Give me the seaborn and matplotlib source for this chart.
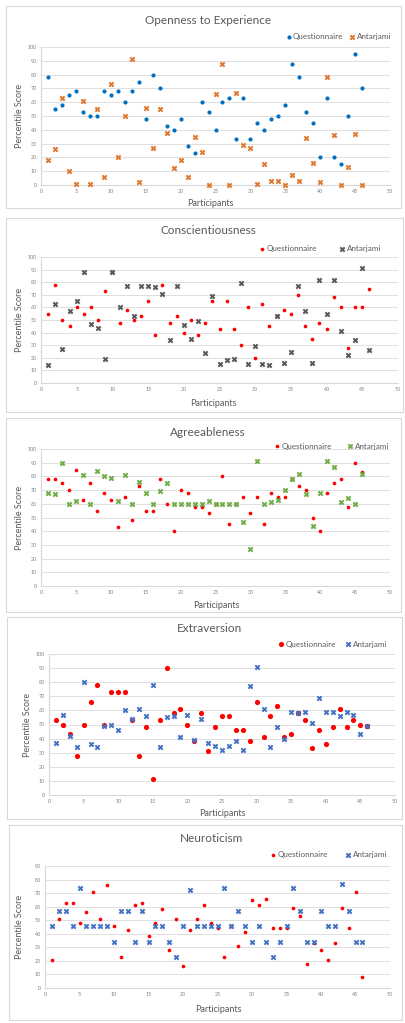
import matplotlib
matplotlib.use('Agg')
import matplotlib.pyplot as plt
import pandas as pd
import seaborn as sns
from matplotlib.patches import Rectangle

participants = list(range(1, 47))

# Openness to Experience
openness_q = [78, 55, 58, 65, 68, 53, 50, 50, 68, 65, 68, 60, 68, 75, 48, 80, 70, 43, 40, 48,
              28, 23, 60, 53, 40, 60, 63, 33, 63, 33, 45, 40, 48, 50, 58, 88, 78, 53, 45, 20,
              63, 20, 15, 50, 95, 70]
openness_a = [18, 26, 63, 10, 1, 61, 1, 55, 6, 73, 20, 50, 91, 2, 56, 27, 55, 38, 12, 18,
              6, 35, 24, 0, 66, 88, 0, 67, 29, 27, 1, 15, 3, 3, 0, 7, 3, 34, 16, 2,
              78, 36, 0, 13, 37, 0]

# Conscientiousness
consc_q = [55, 78, 50, 45, 60, 55, 60, 50, 73, 88, 48, 58, 50, 53, 65, 38, 78, 48, 53, 40,
           50, 38, 48, 65, 43, 65, 43, 30, 60, 20, 63, 45, 53, 58, 55, 70, 45, 35, 48, 43,
           68, 60, 28, 60, 60, 75]
consc_a = [14, 63, 27, 57, 65, 88, 47, 44, 19, 88, 60, 77, 53, 77, 77, 76, 71, 34, 77, 46,
           35, 49, 24, 69, 15, 18, 19, 79, 15, 29, 15, 14, 53, 16, 25, 77, 57, 16, 82, 55,
           82, 41, 22, 34, 91, 26]

# Agreeableness
agree_q = [78, 78, 75, 70, 85, 63, 75, 55, 68, 63, 43, 65, 48, 73, 55, 55, 78, 60, 40, 70,
           68, 58, 58, 53, 60, 80, 45, 60, 65, 53, 65, 45, 68, 65, 65, 78, 73, 70, 50, 40,
           68, 75, 78, 58, 90, 83]
agree_a = [68, 67, 90, 60, 62, 81, 60, 84, 80, 79, 62, 81, 60, 76, 68, 60, 69, 75, 60, 60,
           60, 60, 60, 62, 60, 60, 60, 60, 47, 27, 91, 60, 61, 63, 70, 78, 82, 67, 44, 68,
           91, 87, 61, 64, 60, 82]

# Extraversion
extra_q = [53, 50, 43, 28, 50, 66, 78, 50, 73, 73, 73, 53, 28, 48, 11, 53, 90, 58, 61, 50,
           38, 58, 31, 48, 56, 56, 46, 46, 38, 66, 41, 56, 63, 41, 43, 58, 53, 33, 46, 36,
           48, 61, 48, 53, 50, 49]
extra_a = [37, 57, 42, 34, 80, 36, 34, 49, 50, 46, 60, 54, 61, 56, 78, 34, 55, 56, 41, 57,
           39, 54, 37, 35, 32, 35, 38, 32, 77, 91, 61, 34, 48, 40, 59, 58, 59, 51, 69, 59,
           59, 56, 59, 57, 43, 49]

# Neuroticism
neuro_q = [21, 51, 63, 63, 48, 56, 71, 51, 76, 46, 23, 43, 61, 63, 38, 48, 58, 28, 51, 16,
           43, 51, 61, 48, 44, 23, 46, 31, 41, 65, 61, 66, 44, 44, 44, 59, 53, 18, 33, 28,
           21, 33, 59, 44, 71, 8]
neuro_a = [46, 57, 57, 46, 74, 46, 46, 46, 46, 34, 57, 57, 34, 57, 34, 46, 46, 34, 23, 46,
           72, 46, 46, 46, 46, 74, 46, 57, 46, 34, 46, 34, 23, 34, 46, 74, 57, 34, 34, 57,
           46, 46, 77, 57, 34, 34]

sns.set_theme(style='white')
plt.rcParams['font.family'] = ['Lato', 'DejaVu Sans']

W, H = 405, 1023
fig = plt.figure(figsize=(W / 100, H / 100), dpi=100)

TXT = '#595959'
GRID = '#D9D9D9'

# one dict per chart (pixel positions measured on the reference)
panels = [
    dict(title='Openness to Experience', q=openness_q, a=openness_a,
         qc='#0070C0', ac='#E0782F', qs=9, ymax=100,
         box=(6, 6, 401, 208), plot=(41, 47, 390, 185), title_xy=(208, 20),
         leg=(391, 37), colsp=0.6, ylab_x=19, xlab_xy=(210, 203)),
    dict(title='Conscientiousness', q=consc_q, a=consc_a,
         qc='#FF0000', ac='#595959', qs=7, ymax=100,
         box=(6, 218, 403, 412), plot=(41, 257, 398, 383), title_xy=(208, 231),
         leg=(381, 249), colsp=2.6, ylab_x=20, xlab_xy=(213, 403)),
    dict(title='Agreeableness', q=agree_q, a=agree_a,
         qc='#FF0000', ac='#70AD47', qs=7, ymax=100,
         box=(6, 418, 401, 612), plot=(41, 449, 390, 586), title_xy=(208, 432),
         leg=(389, 446), colsp=1.8, ylab_x=20, xlab_xy=(216, 605)),
    dict(title='Extraversion', q=extra_q, a=extra_a,
         qc='#FF0000', ac='#4472C4', qs=14, ymax=100,
         box=(7, 617, 402, 819), plot=(49, 654, 395, 795), title_xy=(209, 629),
         leg=(387, 644), colsp=1.0, ylab_x=27, xlab_xy=(222, 813)),
    dict(title='Neuroticism', q=neuro_q, a=neuro_a,
         qc='#FF0000', ac='#4472C4', qs=7, ymax=90,
         box=(9, 825, 402, 1020), plot=(45, 866, 390, 988), title_xy=(212, 838),
         leg=(387, 855), colsp=2.0, ylab_x=20, xlab_xy=(218, 1010)),
]

for p in panels:
    # chart border
    bx0, by0, bx1, by1 = p['box']
    fig.patches.append(Rectangle((bx0 / W, 1 - by1 / H), (bx1 - bx0) / W, (by1 - by0) / H,
                                 transform=fig.transFigure, fill=False,
                                 edgecolor=GRID, linewidth=0.8))

    x0, y0, x1, y1 = p['plot']
    ax = fig.add_axes([x0 / W, 1 - y1 / H, (x1 - x0) / W, (y1 - y0) / H])

    df = pd.DataFrame({
        'Participants': participants * 2,
        'Percentile Score': p['q'] + p['a'],
        'Source': ['Questionnaire'] * len(p['q']) + ['Antarjami'] * len(p['a']),
    })
    sns.scatterplot(data=df[df['Source'] == 'Questionnaire'], x='Participants',
                    y='Percentile Score', color=p['qc'], marker='o', s=p['qs'],
                    linewidth=0, label='Questionnaire', ax=ax, clip_on=False, zorder=3)
    sns.scatterplot(data=df[df['Source'] == 'Antarjami'], x='Participants',
                    y='Percentile Score', color=p['ac'], marker='X', s=17,
                    linewidth=0, label='Antarjami', ax=ax, clip_on=False, zorder=4)

    ax.set_xlim(0, 50)
    ax.set_ylim(0, p['ymax'])
    ax.set_xticks(range(0, 51, 5))
    ax.set_yticks(range(0, p['ymax'] + 1, 10))
    ax.tick_params(length=0, labelsize=3.8, labelcolor='#808080', pad=3)
    ax.grid(axis='y', color=GRID, linewidth=0.6)
    ax.set_axisbelow(True)
    for s in ['top', 'right']:
        ax.spines[s].set_visible(False)
    for s in ['left', 'bottom']:
        ax.spines[s].set_color(GRID)
        ax.spines[s].set_linewidth(0.8)
    ax.set_facecolor('none')

    # axis labels
    ax.set_xlabel('Participants', fontsize=6.5, color=TXT)
    ax.set_ylabel('Percentile Score', fontsize=6.5, color=TXT)
    lx, ly = p['xlab_xy']
    ax.xaxis.set_label_coords((lx - x0) / (x1 - x0), -(ly - y1) / (y1 - y0))
    ax.xaxis.label.set_va('center')
    ax.yaxis.set_label_coords(-(x0 - p['ylab_x']) / (x1 - x0), 0.5)
    ax.yaxis.label.set_va('center')

    # title
    tx, ty = p['title_xy']
    fig.text(tx / W, 1 - ty / H, p['title'], ha='center', va='center',
             fontsize=8.5, color=TXT)

    # legend
    lgx, lgy = p['leg']
    ax.legend(loc='center right', bbox_to_anchor=(lgx / W, 1 - lgy / H),
              bbox_transform=fig.transFigure, ncol=2, frameon=False,
              fontsize=5.8, labelcolor=TXT, handletextpad=0.05, columnspacing=p['colsp'],
              handlelength=1.0, borderpad=0, borderaxespad=0, markerscale=1.0)

fig.savefig('out.png', dpi=100)
